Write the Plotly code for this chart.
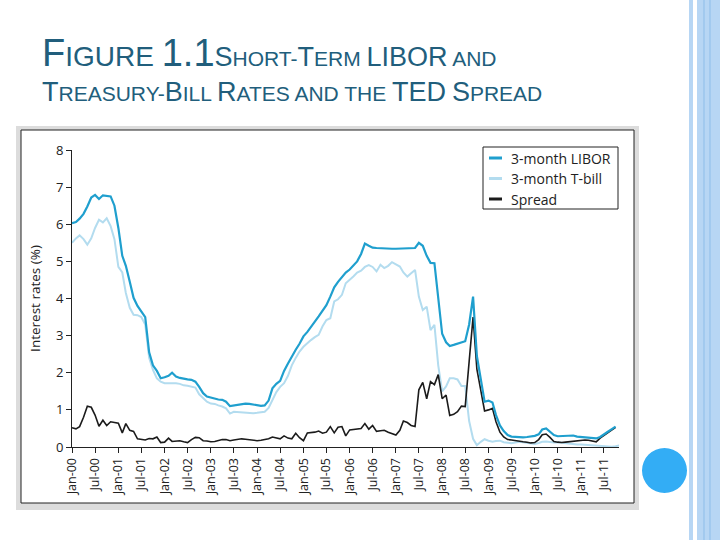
import plotly.graph_objects as go
import pandas as pd

# ---- data (monthly, starting Jan-2000) ----
libor = [6.03, 6.06, 6.15, 6.28, 6.48, 6.72, 6.79, 6.68, 6.78, 6.77, 6.75, 6.50,
         5.90, 5.15, 4.88, 4.45, 4.02, 3.80, 3.65, 3.50, 2.55, 2.20, 2.05, 1.85,
         1.88, 1.92, 2.00, 1.90, 1.86, 1.83, 1.82, 1.81, 1.76, 1.62, 1.45, 1.36,
         1.33, 1.31, 1.28, 1.27, 1.22, 1.10, 1.12, 1.14, 1.15, 1.17, 1.16, 1.14,
         1.12, 1.11, 1.12, 1.25, 1.58, 1.70, 1.78, 2.05, 2.25, 2.45, 2.62, 2.78,
         2.98, 3.10, 3.25, 3.38, 3.52, 3.68, 3.82, 4.05, 4.30, 4.45, 4.58, 4.70,
         4.78, 4.90, 5.00, 5.20, 5.48, 5.42, 5.37, 5.36, 5.35, 5.34, 5.34, 5.34,
         5.34, 5.34, 5.34, 5.34, 5.34, 5.36, 5.50, 5.42, 5.15, 4.96, 4.95, 3.95,
         3.05, 2.82, 2.72, 2.75, 2.78, 2.82, 2.85, 3.30, 4.05, 2.45, 1.78, 1.22,
         1.25, 1.20, 0.86, 0.58, 0.43, 0.32, 0.28, 0.27, 0.26, 0.26, 0.27, 0.28,
         0.30, 0.34, 0.47, 0.50, 0.40, 0.32, 0.29, 0.29, 0.30, 0.30, 0.31, 0.28,
         0.27, 0.26, 0.25, 0.24, 0.23, 0.27, 0.33, 0.41, 0.48, 0.55]

tbill = [5.50, 5.62, 5.70, 5.60, 5.45, 5.62, 5.90, 6.12, 6.05, 6.16, 5.95, 5.60,
         4.85, 4.70, 4.15, 3.75, 3.56, 3.55, 3.50, 3.30, 2.40, 2.08, 1.85, 1.76,
         1.72, 1.72, 1.73, 1.72, 1.70, 1.66, 1.65, 1.62, 1.60, 1.42, 1.31, 1.22,
         1.17, 1.16, 1.12, 1.09, 1.04, 0.90, 0.95, 0.94, 0.93, 0.92, 0.91, 0.91,
         0.92, 0.93, 0.95, 1.05, 1.25, 1.48, 1.62, 1.72, 1.92, 2.20, 2.40, 2.57,
         2.70, 2.80, 2.88, 2.96, 3.02, 3.25, 3.42, 3.47, 3.92, 3.98, 4.10, 4.41,
         4.50, 4.60, 4.70, 4.75, 4.85, 4.90, 4.85, 4.73, 4.91, 4.82, 4.88, 4.98,
         4.92, 4.86, 4.70, 4.59, 4.68, 4.77, 4.05, 3.69, 3.78, 3.15, 3.29, 2.20,
         1.50, 1.63, 1.85, 1.85, 1.82, 1.64, 1.64, 0.70, 0.22, 0.05, 0.14, 0.21,
         0.17, 0.14, 0.16, 0.17, 0.13, 0.12, 0.10, 0.12, 0.14, 0.13, 0.11, 0.10,
         0.08, 0.11, 0.14, 0.15, 0.13, 0.12, 0.13, 0.12, 0.10, 0.08, 0.09, 0.07,
         0.07, 0.06, 0.05, 0.04, 0.04, 0.04, 0.03, 0.02, 0.01, 0.02, 0.04, 0.07]

spread = [0.52, 0.49, 0.55, 0.80, 1.10, 1.07, 0.86, 0.56, 0.72, 0.58, 0.68, 0.66,
          0.64, 0.38, 0.63, 0.45, 0.42, 0.22, 0.20, 0.19, 0.23, 0.22, 0.27, 0.12,
          0.13, 0.24, 0.15, 0.16, 0.17, 0.14, 0.12, 0.20, 0.26, 0.25, 0.17, 0.16,
          0.14, 0.15, 0.18, 0.20, 0.20, 0.17, 0.19, 0.21, 0.22, 0.21, 0.19, 0.19,
          0.17, 0.18, 0.20, 0.22, 0.27, 0.25, 0.22, 0.30, 0.24, 0.22, 0.37, 0.25,
          0.17, 0.38, 0.38, 0.40, 0.43, 0.37, 0.40, 0.55, 0.38, 0.53, 0.55, 0.30,
          0.46, 0.47, 0.47, 0.50, 0.63, 0.48, 0.58, 0.42, 0.44, 0.45, 0.40, 0.36,
          0.32, 0.45, 0.70, 0.66, 0.58, 0.55, 1.54, 1.74, 1.30, 1.76, 1.68, 1.95,
          1.30, 1.40, 0.85, 0.88, 0.95, 1.10, 1.09, 2.30, 3.50, 2.10, 1.55, 0.97,
          1.00, 1.04, 0.68, 0.40, 0.27, 0.20, 0.19, 0.17, 0.14, 0.14, 0.13, 0.11,
          0.12, 0.20, 0.33, 0.35, 0.26, 0.15, 0.13, 0.12, 0.13, 0.14, 0.15, 0.17,
          0.19, 0.19, 0.18, 0.16, 0.14, 0.24, 0.31, 0.39, 0.47, 0.53]

tick_labels = ["Jan-00", "Jul-00", "Jan-01", "Jul-01", "Jan-02", "Jul-02",
               "Jan-03", "Jul-03", "Jan-04", "Jul-04", "Jan-05", "Jul-05",
               "Jan-06", "Jul-06", "Jan-07", "Jul-07", "Jan-08", "Jul-08",
               "Jan-09", "Jul-09", "Jan-10", "Jul-10", "Jan-11", "Jul-11"]
series_names = ["3-month LIBOR", "3-month T-bill", "Spread"]

dates = pd.date_range("2000-01-01", periods=max(len(libor), len(tbill), len(spread)), freq="MS")
tick_vals = pd.date_range("2000-01-01", periods=len(tick_labels), freq="6MS")

C_LIBOR = "#1f9fce"
C_TBILL = "#b3dcef"
C_SPREAD = "#1b1b1b"

# ---- geometry helpers (pixel -> paper) ----
W, H = 720, 540
L, R, T, B = 72, 101, 150, 93
PW, PH = W - L - R, H - T - B


def px(x):
    return (x - L) / PW


def py(y):
    return (H - B - y) / PH


fig = go.Figure()
fig.add_trace(go.Scatter(x=dates[:len(tbill)], y=tbill, mode="lines", name=series_names[1],
                         line=dict(color=C_TBILL, width=2), showlegend=False))
fig.add_trace(go.Scatter(x=dates[:len(spread)], y=spread, mode="lines", name=series_names[2],
                         line=dict(color=C_SPREAD, width=1.6), showlegend=False))
fig.add_trace(go.Scatter(x=dates[:len(libor)], y=libor, mode="lines", name=series_names[0],
                         line=dict(color=C_LIBOR, width=2.2), showlegend=False))

SANS = "Open Sans, Noto Sans, sans-serif"
axis_font = dict(family=SANS, size=12.5, color="#222")

fig.update_xaxes(type="date", range=["2000-01-01", "2011-10-28"],
                 tickvals=list(tick_vals), ticktext=tick_labels, tickangle=-90,
                 ticks="outside", ticklen=5, tickcolor="#222", showline=True,
                 linecolor="#222", linewidth=1, showgrid=False, zeroline=False,
                 tickfont=axis_font)
fig.update_yaxes(range=[0, 8], dtick=1, ticks="outside", ticklen=5, tickcolor="#222",
                 showline=True, linecolor="#222", linewidth=1, showgrid=False,
                 zeroline=False, tickfont=dict(family=SANS, size=13, color="#222"),
                 title=dict(text="Interest rates (%)", standoff=12,
                            font=dict(family=SANS, size=13.5, color="#222")))

shapes = []
# grey frame and white chart panel
shapes.append(dict(type="rect", xref="paper", yref="paper", layer="below",
                   x0=px(16), x1=px(639), y0=py(510), y1=py(126),
                   fillcolor="#dcdcdc", line=dict(width=0)))
shapes.append(dict(type="rect", xref="paper", yref="paper", layer="below",
                   x0=px(21), x1=px(634), y0=py(503), y1=py(130),
                   fillcolor="white", line=dict(color="#222", width=1)))
# slide decoration on the right
shapes.append(dict(type="rect", xref="paper", yref="paper", layer="below",
                   x0=px(689), x1=px(693), y0=py(540), y1=py(0),
                   fillcolor="#b7d6f4", line=dict(width=0)))
shapes.append(dict(type="rect", xref="paper", yref="paper", layer="below",
                   x0=px(697), x1=px(720), y0=py(540), y1=py(0),
                   fillcolor="#b7d6f4", line=dict(width=0)))
for lx in (704, 710):
    shapes.append(dict(type="line", xref="paper", yref="paper", layer="below",
                       x0=px(lx), x1=px(lx), y0=py(540), y1=py(0),
                       line=dict(color="#8dbde9", width=1)))
shapes.append(dict(type="circle", xref="paper", yref="paper", layer="above",
                   x0=px(642), x1=px(687), y0=py(493), y1=py(448),
                   fillcolor="#33adf5", line=dict(width=0)))
# legend box
shapes.append(dict(type="rect", xref="paper", yref="paper", layer="above",
                   x0=px(483), x1=px(618), y0=py(209), y1=py(147),
                   fillcolor="rgba(255,255,255,0)", line=dict(color="#222", width=1)))
leg_rows = [(158, C_LIBOR), (178.5, C_TBILL), (199, C_SPREAD)]
for (yy, col) in leg_rows:
    shapes.append(dict(type="line", xref="paper", yref="paper", layer="above",
                       x0=px(489), x1=px(502), y0=py(yy), y1=py(yy),
                       line=dict(color=col, width=3)))

annotations = []
for (yy, col), name in zip(leg_rows, series_names):
    annotations.append(dict(xref="paper", yref="paper", x=px(509), y=py(yy),
                            xanchor="left", yanchor="middle", showarrow=False,
                            text=name, font=dict(family=SANS, size=14, color="#222")))

TITLE_FONT = "Liberation Sans Narrow, Arial Narrow, Liberation Sans, sans-serif"
TC = "#215e7c"
big1 = '<span style="font-size:38px">%s</span>'
big2 = '<span style="font-size:27px">%s</span>'
big3 = '<span style="font-size:27px">%s</span>'
line1 = (big1 % "F") + "IGURE " + (big1 % "1.1") + \
    '<span style="font-size:21px">' + (big2 % "S") + "HORT-" + (big2 % "T") + "ERM " + \
    (big2 % "LIBOR") + " AND</span>"
line2 = (big3 % "T") + "REASURY-" + (big3 % "B") + "ILL " + (big3 % "R") + "ATES AND THE " + \
    (big3 % "TED") + " " + (big3 % "S") + "PREAD"
annotations.append(dict(xref="paper", yref="paper", x=px(40), y=py(76), xanchor="left",
                        yanchor="bottom", showarrow=False, text=line1,
                        font=dict(family=TITLE_FONT, size=28, color=TC)))
annotations.append(dict(xref="paper", yref="paper", x=px(40), y=py(109), xanchor="left",
                        yanchor="bottom", showarrow=False, text=line2,
                        font=dict(family=TITLE_FONT, size=21, color=TC)))

fig.update_layout(width=W, height=H, margin=dict(l=L, r=R, t=T, b=B),
                  paper_bgcolor="white", plot_bgcolor="rgba(0,0,0,0)",
                  shapes=shapes, annotations=annotations, showlegend=False)

fig.write_html("out.html", config={"displayModeBar": False},
               post_script="document.body.style.margin='0';")
